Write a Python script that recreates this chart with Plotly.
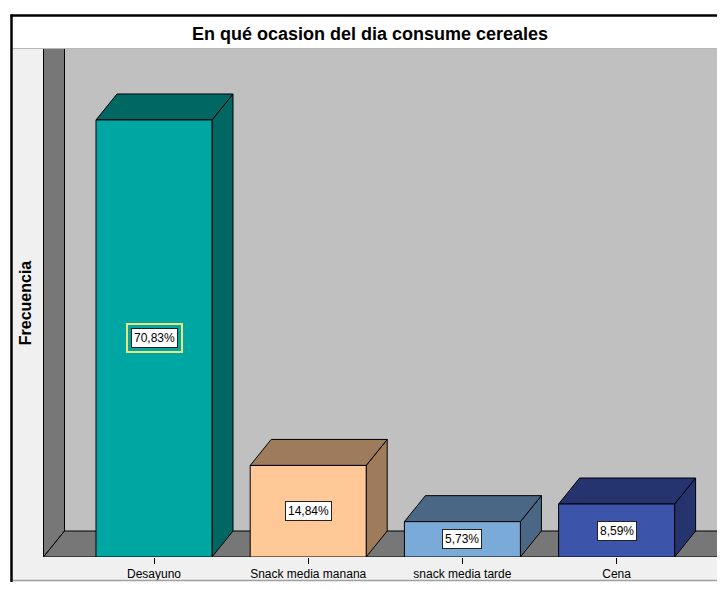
import plotly.graph_objects as go

# ---------------- data ----------------
categories = ["Desayuno", "Snack media manana", "snack media tarde", "Cena"]
percentages = [70.83, 14.84, 5.73, 8.59]
value_labels = ["70,83%", "14,84%", "5,73%", "8,59%"]
title_text = "En qué ocasion del dia consume cereales"
y_title = "Frecuencia"

front_colors = ["#00a6a2", "#ffc896", "#7aaad8", "#3c55aa"]
shade_colors = ["#006762", "#9e7b5b", "#4a6886", "#25346e"]

# ---------------- geometry / style ----------------
PAGE_OFF = 8                     # default body margin of the html page
W_REF, H_REF = 725, 590          # window size
W, H = W_REF - 2 * PAGE_OFF, H_REF - 2 * PAGE_OFF   # keep page from overflowing
RIGHT_PX, BOTTOM_PX = W_REF - PAGE_OFF, H_REF - PAGE_OFF
PLOT_L, PLOT_T, PLOT_B = 42, 49, 557   # plot area in window pixels
PW, PH = RIGHT_PX - PLOT_L, PLOT_B - PLOT_T
CAT0_PX, STEP_PX = 154, 154.2
PX_PER_PCT = 6.17
x_range = [(PLOT_L - CAT0_PX) / STEP_PX, (RIGHT_PX - CAT0_PX) / STEP_PX]
y_range = [0, PH / PX_PER_PCT]
bar_w = 116 / STEP_PX
dx = 21 / STEP_PX
dy = 26 / PX_PER_PCT
wall_x0 = (43.5 - CAT0_PX) / STEP_PX
FONT = "Liberation Sans, Arial"


def pxx(p):
    return (p - PLOT_L) / PW


def pxy(p):
    return (PLOT_B - p) / PH


fig = go.Figure()

for i, (v, fc, sc) in enumerate(zip(percentages, front_colors, shade_colors)):
    xl, xr = i - bar_w / 2, i + bar_w / 2
    fig.add_trace(go.Scatter(
        x=[xr, xr + dx, xr + dx, xr, xr], y=[0, dy, v + dy, v, 0],
        mode="lines", fill="toself", fillcolor=sc,
        line=dict(color="black", width=1), hoverinfo="skip", showlegend=False))
    fig.add_trace(go.Scatter(
        x=[xl, xr, xr + dx, xl + dx, xl], y=[v, v, v + dy, v + dy, v],
        mode="lines", fill="toself", fillcolor=sc,
        line=dict(color="black", width=1), hoverinfo="skip", showlegend=False))
    fig.add_trace(go.Scatter(
        x=[xl, xr, xr, xl, xl], y=[0, 0, v, v, 0],
        mode="lines", fill="toself", fillcolor=fc,
        line=dict(color="black", width=1), hoverinfo="skip", showlegend=False))

shapes = []
shapes.append(dict(type="path", xref="x", yref="y", layer="below",
                   path=f"M {wall_x0},0 L {wall_x0 + dx},{dy} L {wall_x0 + dx},{y_range[1] + 5} L {wall_x0},{y_range[1] + 5} Z",
                   fillcolor="#777777", line=dict(color="black", width=1)))
shapes.append(dict(type="path", xref="x", yref="y", layer="below",
                   path=f"M {wall_x0},0 L {x_range[1] + 1},0 L {x_range[1] + 1},{dy} L {wall_x0 + dx},{dy} Z",
                   fillcolor="#777777", line=dict(color="black", width=1)))
shapes.append(dict(type="rect", xref="paper", yref="paper", layer="below",
                   x0=pxx(13), x1=pxx(43), y0=pxy(580.5), y1=pxy(49),
                   fillcolor="#f0f0f0", line=dict(width=0)))
shapes.append(dict(type="rect", xref="paper", yref="paper", layer="below",
                   x0=pxx(13), x1=pxx(W_REF + 5), y0=pxy(580.5), y1=pxy(557),
                   fillcolor="#f0f0f0", line=dict(width=0)))
shapes.append(dict(type="line", xref="paper", yref="paper", layer="above",
                   x0=pxx(13), x1=pxx(W_REF + 5), y0=pxy(580.5), y1=pxy(580.5),
                   line=dict(color="#a0a0a0", width=1.5)))
shapes.append(dict(type="line", xref="paper", yref="paper", layer="above",
                   x0=pxx(13), x1=pxx(W_REF + 5), y0=pxy(48.5), y1=pxy(48.5),
                   line=dict(color="#b8b8b8", width=1)))
shapes.append(dict(type="line", xref="paper", yref="paper", layer="above",
                   x0=pxx(11.5), x1=pxx(11.5), y0=pxy(H_REF + 5), y1=pxy(14.5),
                   line=dict(color="black", width=2.5)))
shapes.append(dict(type="line", xref="paper", yref="paper", layer="above",
                   x0=pxx(10.5), x1=pxx(W_REF + 5), y0=pxy(15.5), y1=pxy(15.5),
                   line=dict(color="black", width=2.5)))

annotations = []
for i, (v, lab) in enumerate(zip(percentages, value_labels)):
    if i == 0:
        annotations.append(dict(x=i, y=v / 2, xref="x", yref="y", text=lab, showarrow=False,
                                font=dict(family=FONT, size=12, color="rgba(0,0,0,0)"),
                                bgcolor=front_colors[i], bordercolor="#eee27a", borderwidth=2, borderpad=6))
    annotations.append(dict(x=i, y=v / 2, xref="x", yref="y", text=lab, showarrow=False,
                            font=dict(family=FONT, size=12, color="black"),
                            bgcolor="white", bordercolor="#222222", borderwidth=1, borderpad=2))

fig.update_layout(
    width=W, height=H,
    margin=dict(l=PLOT_L - PAGE_OFF, r=0, t=PLOT_T - PAGE_OFF, b=BOTTOM_PX - PLOT_B),
    paper_bgcolor="white", plot_bgcolor="#c0c0c0",
    title=dict(text=f"<b>{title_text}</b>", x=(370 - PAGE_OFF) / W, xanchor="center",
               y=1 - (34 - PAGE_OFF) / H, yanchor="middle",
               font=dict(family=FONT, size=18, color="black")),
    shapes=shapes, annotations=annotations,
    xaxis=dict(range=x_range, tickmode="array", tickvals=list(range(len(categories))),
               ticktext=categories, ticks="outside", ticklen=6, tickcolor="black", tickwidth=1,
               tickfont=dict(family=FONT, size=12, color="black"),
               showgrid=False, zeroline=False, showline=False, fixedrange=True),
    yaxis=dict(range=y_range, showticklabels=False, ticks="", showgrid=False, zeroline=False,
               showline=False, fixedrange=True,
               title=dict(text=f"<b>{y_title}</b>", standoff=5,
                          font=dict(family=FONT, size=16, color="black"))),
    showlegend=False,
)

fig.write_html("out.html")
